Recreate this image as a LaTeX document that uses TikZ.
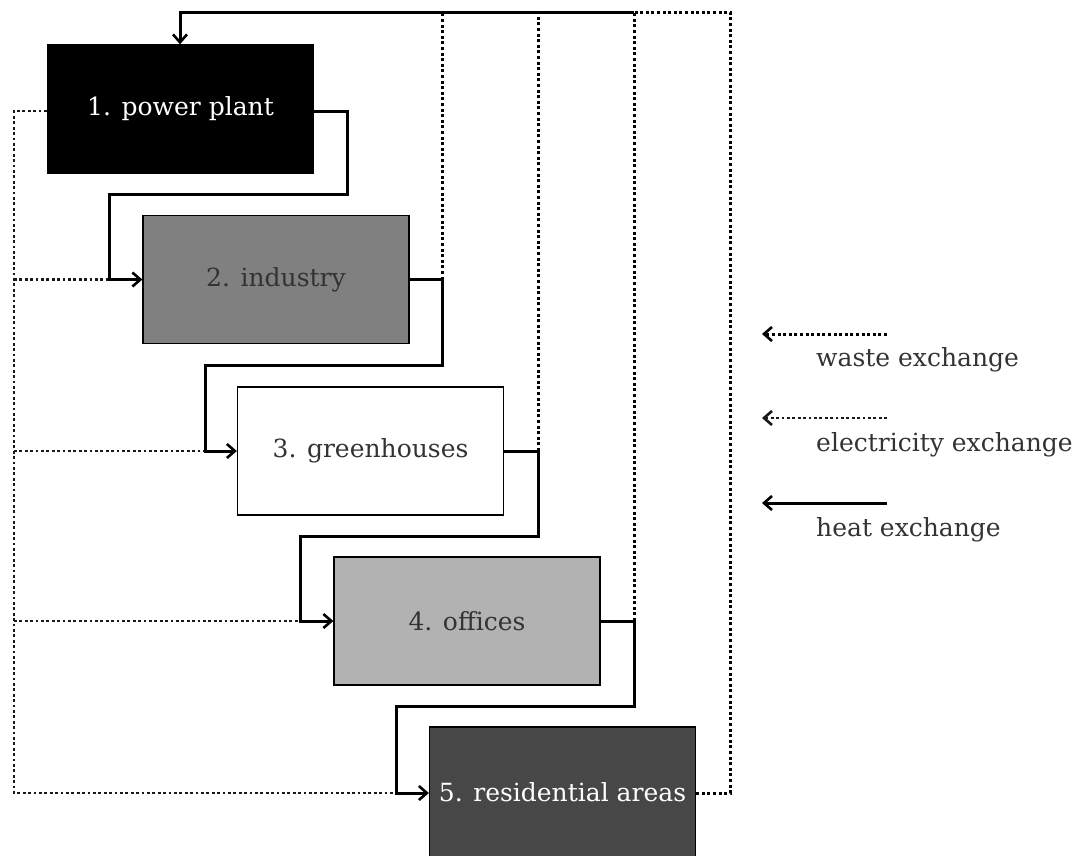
\documentclass[tikz,border=0pt]{standalone}
\usepackage{fontspec}
\setmainfont{DejaVu Serif}
\usetikzlibrary{arrows.meta}
\begin{document}
\begin{tikzpicture}[x=1pt,y=-1pt,
  box/.style={draw=black,line width=1.3pt,minimum width=266pt,minimum height=128pt,inner sep=0pt,font=\fontsize{25}{29}\selectfont},
  heat/.style={line width=3pt,draw=black},
  waste/.style={line width=3pt,dash pattern=on 3pt off 2.6pt,draw=black},
  elec/.style={line width=2.6pt,dash pattern=on 2.8pt off 2.6pt,draw=black!90},
  tip/.style={-{Straight Barb[length=8pt,width=14pt,line width=2.6pt]}},
  lbl/.style={anchor=west,inner sep=0pt,font=\fontsize{25}{29}\selectfont,text=black!80}]
\useasboundingbox (0,0) rectangle (1079,855);
% boxes
\node[box,fill=black,text=white] (p1) at (180.5,109) {1. power plant};
\node[box,fill=black!50,text=black!80] (p2) at (276,279.5) {2. industry};
\node[box,fill=white,text=black!80] (p3) at (370.5,451) {3. greenhouses};
\node[box,fill=black!30,text=black!80] (p4) at (467,621) {4. offices};
\node[box,fill=black!72,text=white,minimum height=130pt] (p5) at (562.5,792) {5. residential areas};
% waste exchange (right side, to top)
\coordinate (w2) at (442,279.5);
\coordinate (w3) at (538,451);
\coordinate (w4) at (634,621);
\coordinate (topr) at (730,12);
\coordinate (topl) at (180,12);
\draw[waste] (w2) -- (442,12);
\draw[waste] (w3) -- (538,12);
\draw[waste] (w4) -- (634,12);
\draw[waste] (p5.east |- 0,793) -- (730,793) -- (topr) -- (634,12);
\draw[heat,tip] (634,12) -- (topl) -- (p1.north -| topl);
% electricity exchange (left side)
\draw[elec] (p1.west |- 0,111) -- (14,111) -- (14,793) -- (396,793);
\draw[elec] (14,279.5) -- (109,279.5);
\draw[elec] (14,451) -- (205,451);
\draw[elec] (14,621) -- (300,621);
% heat exchange
\draw[heat,tip] (p1.east |- 0,111) -- (347,111) -- (347,194) -- (109,194) -- (109,279.5) -- (p2.west);
\draw[heat,tip] (p2.east) -- (w2) -- (442,365) -- (205,365) -- (205,451) -- (p3.west);
\draw[heat,tip] (p3.east) -- (w3) -- (538,536) -- (300,536) -- (300,621) -- (p4.west);
\draw[heat,tip] (p4.east) -- (w4) -- (634,706) -- (396,706) -- (396,793) -- (p5.west |- 0,793);
% legend
\coordinate (l1a) at (887,334); \coordinate (l1b) at (762,334);
\coordinate (l2a) at (887,418); \coordinate (l2b) at (762,418);
\coordinate (l3a) at (887,503); \coordinate (l3b) at (762,503);
\draw[waste,tip] (l1a) -- (l1b);
\draw[elec,tip,line width=2pt] (l2a) -- (l2b);
\draw[heat,tip] (l3a) -- (l3b);
\node[lbl] (t1) at (816,360) {waste exchange};
\node[lbl] (t2) at (816,445) {electricity exchange};
\node[lbl] (t3) at (816,530) {heat exchange};
\end{tikzpicture}
\end{document}
